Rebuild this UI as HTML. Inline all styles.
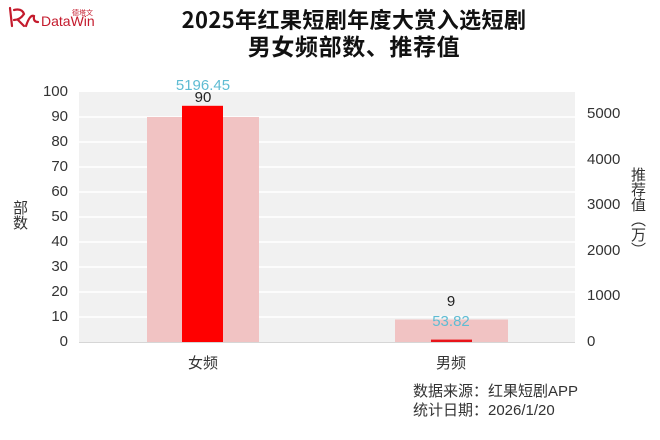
<!DOCTYPE html>
<html><head><meta charset="utf-8"><style>
html,body{margin:0;padding:0;background:#fff;}
body{width:660px;height:440px;position:relative;overflow:hidden;font-family:"Liberation Sans","Noto Sans CJK SC",sans-serif;}
.t{position:absolute;white-space:nowrap;}
.title{font-family:"Noto Sans CJK SC","WenQuanYi Zen Hei",sans-serif;font-weight:bold;color:#111;text-align:center;left:0;width:708px;}
.vt{position:absolute;writing-mode:vertical-rl;font-family:"Noto Sans CJK SC",sans-serif;color:#333;font-size:15px;line-height:16px;}
</style></head><body>
<svg width="660" height="440" style="position:absolute;left:0;top:0">
  <rect x="79" y="92" width="496" height="250" fill="#f1f1f1"/>
  <g stroke="#ffffff" stroke-width="1.6">
    <line x1="79" x2="575" y1="117" y2="117"/>
    <line x1="79" x2="575" y1="142" y2="142"/>
    <line x1="79" x2="575" y1="167" y2="167"/>
    <line x1="79" x2="575" y1="192" y2="192"/>
    <line x1="79" x2="575" y1="217" y2="217"/>
    <line x1="79" x2="575" y1="242" y2="242"/>
    <line x1="79" x2="575" y1="267" y2="267"/>
    <line x1="79" x2="575" y1="292" y2="292"/>
    <line x1="79" x2="575" y1="317" y2="317"/>
  </g>
  <rect x="147" y="117" width="112" height="225" fill="#f1c3c3"/>
  <rect x="395" y="319.5" width="113" height="22.5" fill="#f1c3c3"/>
  <rect x="182" y="105.8" width="41" height="236.2" fill="#ff0000"/>
  <rect x="431" y="339.6" width="41" height="2.4" fill="#e8141a"/>
  <line x1="79" x2="575" y1="342.5" y2="342.5" stroke="#d6d6d6" stroke-width="1"/>
  <g fill="none" stroke="#c41a2c" stroke-width="2.2" stroke-linecap="round">
    <path d="M10 8 L12 26"/>
    <path d="M14 10 Q22 8 24 14 Q20 20 14 20"/>
    <path d="M18 20 L24 26"/>
    <path d="M26 26 Q30 14 34 16 Q33 22 38 22"/>
  </g>
</svg>
<div class="t" style="left:72px;top:8px;font-size:7px;color:#c41a2c;font-family:'Noto Sans CJK SC',sans-serif;">德塔文</div>
<div class="t" style="left:41px;top:13px;font-size:14px;color:#c41a2c;">DataWin</div>

<div class="t title" style="top:5px;font-size:22px;line-height:28px;letter-spacing:0.4px;">2025年红果短剧年度大赏入选短剧</div>
<div class="t title" style="top:31px;font-size:23px;line-height:28px;letter-spacing:0.6px;">男女频部数、推荐值</div>

<div style="position:absolute;left:0;top:0;width:68px;font-size:15px;color:#333;">
  <div class="t" style="right:0;top:83px;">100</div>
  <div class="t" style="right:0;top:108px;">90</div>
  <div class="t" style="right:0;top:133px;">80</div>
  <div class="t" style="right:0;top:158px;">70</div>
  <div class="t" style="right:0;top:183px;">60</div>
  <div class="t" style="right:0;top:208px;">50</div>
  <div class="t" style="right:0;top:233px;">40</div>
  <div class="t" style="right:0;top:258px;">30</div>
  <div class="t" style="right:0;top:283px;">20</div>
  <div class="t" style="right:0;top:308px;">10</div>
  <div class="t" style="right:0;top:333px;">0</div>
</div>
<div style="position:absolute;left:587px;top:0;font-size:15px;color:#333;">
  <div class="t" style="left:0;top:105px;">5000</div>
  <div class="t" style="left:0;top:151px;">4000</div>
  <div class="t" style="left:0;top:196px;">3000</div>
  <div class="t" style="left:0;top:242px;">2000</div>
  <div class="t" style="left:0;top:287px;">1000</div>
  <div class="t" style="left:0;top:333px;">0</div>
</div>

<div class="vt" style="left:12px;top:200px;">部数</div>
<div class="vt" style="left:630px;top:167px;">推荐值（万）</div>

<div class="t" style="left:153px;width:100px;text-align:center;top:77px;font-size:15px;color:#5fbcd3;">5196.45</div>
<div class="t" style="left:153px;width:100px;text-align:center;top:89px;font-size:15px;color:#222;">90</div>
<div class="t" style="left:401px;width:100px;text-align:center;top:293px;font-size:15px;color:#222;">9</div>
<div class="t" style="left:401px;width:100px;text-align:center;top:313px;font-size:15px;color:#5fbcd3;">53.82</div>

<div class="t" style="left:163px;width:80px;text-align:center;top:352px;font-size:15px;color:#333;font-family:'Noto Sans CJK SC',sans-serif;">女频</div>
<div class="t" style="left:411px;width:80px;text-align:center;top:352px;font-size:15px;color:#333;font-family:'Noto Sans CJK SC',sans-serif;">男频</div>

<div class="t" style="left:413px;top:382px;font-size:15px;color:#333;line-height:19px;font-family:'Liberation Sans','Noto Sans CJK SC',sans-serif;">数据来源：红果短剧APP<br>统计日期：2026/1/20</div>
</body></html>
